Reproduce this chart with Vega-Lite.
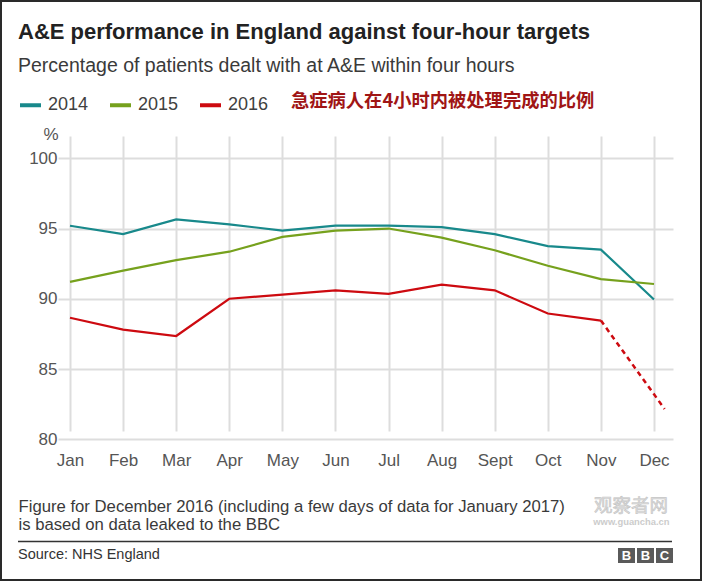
{
  "$schema": "https://vega.github.io/schema/vega-lite/v6.json",
  "width": 700,
  "height": 579,
  "padding": 1,
  "autosize": {"type": "none"},
  "background": "white",
  "config": {
    "view": {"stroke": "#2a2a2a", "strokeWidth": 2},
    "font": "Liberation Sans"
  },
  "title": {
    "text": "A&E performance in England against four-hour targets",
    "subtitle": "Percentage of patients dealt with at A&E within four hours",
    "anchor": "start",
    "frame": "group",
    "orient": "top",
    "offset": -75,
    "dx": 17,
    "font": "Liberation Sans",
    "fontSize": 22,
    "fontWeight": "bold",
    "color": "#222222",
    "subtitleFont": "Liberation Sans",
    "subtitleFontSize": 19.5,
    "subtitleColor": "#3a3a3a",
    "subtitlePadding": 13
  },
  "layer": [
    {
      "data": {
        "values": [
          {"year": "2014", "month": 1, "value": 95.2, "status": "official"},
          {"year": "2014", "month": 2, "value": 94.6, "status": "official"},
          {"year": "2014", "month": 3, "value": 95.65, "status": "official"},
          {"year": "2014", "month": 4, "value": 95.3, "status": "official"},
          {"year": "2014", "month": 5, "value": 94.85, "status": "official"},
          {"year": "2014", "month": 6, "value": 95.2, "status": "official"},
          {"year": "2014", "month": 7, "value": 95.2, "status": "official"},
          {"year": "2014", "month": 8, "value": 95.1, "status": "official"},
          {"year": "2014", "month": 9, "value": 94.6, "status": "official"},
          {"year": "2014", "month": 10, "value": 93.75, "status": "official"},
          {"year": "2014", "month": 11, "value": 93.5, "status": "official"},
          {"year": "2014", "month": 12, "value": 89.95, "status": "official"},
          {"year": "2015", "month": 1, "value": 91.2, "status": "official"},
          {"year": "2015", "month": 2, "value": 92.0, "status": "official"},
          {"year": "2015", "month": 3, "value": 92.75, "status": "official"},
          {"year": "2015", "month": 4, "value": 93.35, "status": "official"},
          {"year": "2015", "month": 5, "value": 94.4, "status": "official"},
          {"year": "2015", "month": 6, "value": 94.85, "status": "official"},
          {"year": "2015", "month": 7, "value": 95.0, "status": "official"},
          {"year": "2015", "month": 8, "value": 94.35, "status": "official"},
          {"year": "2015", "month": 9, "value": 93.45, "status": "official"},
          {"year": "2015", "month": 10, "value": 92.35, "status": "official"},
          {"year": "2015", "month": 11, "value": 91.4, "status": "official"},
          {"year": "2015", "month": 12, "value": 91.05, "status": "official"},
          {"year": "2016", "month": 1, "value": 88.65, "status": "official"},
          {"year": "2016", "month": 2, "value": 87.8, "status": "official"},
          {"year": "2016", "month": 3, "value": 87.35, "status": "official"},
          {"year": "2016", "month": 4, "value": 90.0, "status": "official"},
          {"year": "2016", "month": 5, "value": 90.3, "status": "official"},
          {"year": "2016", "month": 6, "value": 90.6, "status": "official"},
          {"year": "2016", "month": 7, "value": 90.35, "status": "official"},
          {"year": "2016", "month": 8, "value": 91.0, "status": "official"},
          {"year": "2016", "month": 9, "value": 90.6, "status": "official"},
          {"year": "2016", "month": 10, "value": 88.95, "status": "official"},
          {"year": "2016", "month": 11, "value": 88.45, "status": "official"},
          {"year": "2016", "month": 12.2, "value": 82.15, "status": "leaked"}
        ]
      },
      "layer": [
        {
          "transform": [{"filter": "datum.status != 'leaked'"}],
          "mark": {"type": "line", "strokeWidth": 2.2, "clip": false},
          "encoding": {
            "x": {
              "field": "month",
              "type": "quantitative",
              "scale": {"domain": [0.774, 12.358], "range": [57, 672], "nice": false, "zero": false},
              "axis": {
                "values": [1, 2, 3, 4, 5, 6, 7, 8, 9, 10, 11, 12],
                "labelExpr": "['','Jan','Feb','Mar','Apr','May','Jun','Jul','Aug','Sept','Oct','Nov','Dec'][datum.value]",
                "offset": -135,
                "domain": false,
                "ticks": false,
                "tickSize": 0,
                "grid": true,
                "gridColor": "#dddddd",
                "gridWidth": 2,
                "labelFlush": false,
                "labelOverlap": false,
                "labelFont": "Liberation Sans",
                "labelFontSize": 17,
                "labelColor": "#555555",
                "labelBaseline": "alphabetic",
                "labelPadding": 20.7,
                "title": ["Figure for December 2016 (including a few days of data for January 2017)", "is based on data leaked to the BBC"],
                "titleX": 17,
                "titleY": 66.5,
                "titleAlign": "left",
                "titleAnchor": "start",
                "titleBaseline": "alphabetic",
                "titleFont": "Liberation Sans",
                "titleFontSize": 16.7,
                "titleFontWeight": "normal",
                "titleColor": "#3a3a3a",
                "titleLineHeight": 17.8
              }
            },
            "y": {
              "field": "value",
              "type": "quantitative",
              "scale": {"domain": [79.59, 100.59], "range": [444, 149], "nice": false, "zero": false},
              "axis": {
                "values": [80, 85, 90, 95, 100],
                "offset": -57,
                "domain": false,
                "ticks": false,
                "tickSize": 0,
                "grid": true,
                "gridColor": "#dddddd",
                "gridWidth": 2,
                "labelFont": "Liberation Sans",
                "labelFontSize": 17,
                "labelColor": "#555555",
                "labelPadding": 1,
                "title": "%",
                "titleAngle": 0,
                "titleX": 0,
                "titleY": 138,
                "titleAlign": "right",
                "titleBaseline": "alphabetic",
                "titleFont": "Liberation Sans",
                "titleFontSize": 17,
                "titleFontWeight": "normal",
                "titleColor": "#555555"
              }
            },
            "color": {
              "field": "year",
              "type": "nominal",
              "scale": {"domain": ["2014", "2015", "2016"], "range": ["#18898b", "#76a11d", "#cd0a10"]},
              "legend": {
                "orient": "none",
                "legendX": 17,
                "legendY": 91.5,
                "direction": "horizontal",
                "padding": 0,
                "symbolType": "stroke",
                "symbolSize": 441,
                "symbolStrokeWidth": 4,
                "labelFont": "Liberation Sans",
                "labelFontSize": 18,
                "labelColor": "#404040",
                "labelOffset": 5,
                "columnPadding": 13,
                "title": "急症病人在4小时内被处理完成的比例",
                "titleOrient": "right",
                "titleAnchor": "start",
                "titleBaseline": "top",
                "titlePadding": 23,
                "titleLimit": 500,
                "titleFont": "Noto Sans CJK SC",
                "titleFontSize": 18.3,
                "titleFontWeight": "bold",
                "titleColor": "#a01515"
              }
            }
          }
        },
        {
          "transform": [{"filter": "datum.year == '2016' && datum.month >= 11"}],
          "mark": {"type": "line", "strokeWidth": 2.5, "strokeDash": [5, 4], "color": "#cd0a10", "clip": false},
          "encoding": {
            "x": {"field": "month", "type": "quantitative"},
            "y": {"field": "value", "type": "quantitative"}
          }
        }
      ]
    },
    {
      "data": {"values": [{}]},
      "mark": {"type": "rule", "color": "#333333", "strokeWidth": 1.5, "clip": false},
      "encoding": {
        "x": {"datum": 0.0206},
        "x2": {"datum": 12.339},
        "y": {"datum": 72.721}
      }
    },
    {
      "data": {"values": [{}]},
      "mark": {"type": "text", "text": "Source: NHS England", "align": "left", "baseline": "alphabetic", "font": "Liberation Sans", "fontSize": 14.5, "color": "#333333", "clip": false},
      "encoding": {
        "x": {"datum": 0.0206},
        "y": {"datum": 71.475}
      }
    },
    {
      "data": {"values": [{}]},
      "mark": {"type": "text", "text": "观察者网", "align": "center", "baseline": "alphabetic", "font": "Noto Sans CJK SC", "fontSize": 18.5, "color": "#dedede", "stroke": "#c4c4c4", "strokeWidth": 0.6, "clip": false},
      "encoding": {
        "x": {"datum": 11.567},
        "y": {"datum": 74.85}
      }
    },
    {
      "data": {"values": [{}]},
      "mark": {"type": "text", "text": "www.guancha.cn", "align": "center", "baseline": "alphabetic", "font": "Liberation Sans", "fontSize": 9.4, "fontWeight": "bold", "color": "#cccccc", "clip": false},
      "encoding": {
        "x": {"datum": 11.575},
        "y": {"datum": 73.88}
      }
    },
    {
      "data": {"values": [{}]},
      "mark": {"type": "rect", "color": "#5a5a5a", "clip": false},
      "encoding": {
        "x": {"datum": 11.322},
        "x2": {"datum": 11.642},
        "y": {"datum": 72.258},
        "y2": {"datum": 71.19}
      }
    },
    {
      "data": {"values": [{}]},
      "mark": {"type": "rect", "color": "#5a5a5a", "clip": false},
      "encoding": {
        "x": {"datum": 11.68},
        "x2": {"datum": 12.0},
        "y": {"datum": 72.258},
        "y2": {"datum": 71.19}
      }
    },
    {
      "data": {"values": [{}]},
      "mark": {"type": "rect", "color": "#5a5a5a", "clip": false},
      "encoding": {
        "x": {"datum": 12.038},
        "x2": {"datum": 12.358},
        "y": {"datum": 72.258},
        "y2": {"datum": 71.19}
      }
    },
    {
      "data": {"values": [{}]},
      "mark": {"type": "text", "text": "B", "align": "center", "baseline": "alphabetic", "font": "Liberation Sans", "fontSize": 13, "fontWeight": "bold", "color": "#ffffff", "clip": false},
      "encoding": {
        "x": {"datum": 11.482},
        "y": {"datum": 71.39}
      }
    },
    {
      "data": {"values": [{}]},
      "mark": {"type": "text", "text": "B", "align": "center", "baseline": "alphabetic", "font": "Liberation Sans", "fontSize": 13, "fontWeight": "bold", "color": "#ffffff", "clip": false},
      "encoding": {
        "x": {"datum": 11.84},
        "y": {"datum": 71.39}
      }
    },
    {
      "data": {"values": [{}]},
      "mark": {"type": "text", "text": "C", "align": "center", "baseline": "alphabetic", "font": "Liberation Sans", "fontSize": 13, "fontWeight": "bold", "color": "#ffffff", "clip": false},
      "encoding": {
        "x": {"datum": 12.198},
        "y": {"datum": 71.39}
      }
    }
  ]
}
